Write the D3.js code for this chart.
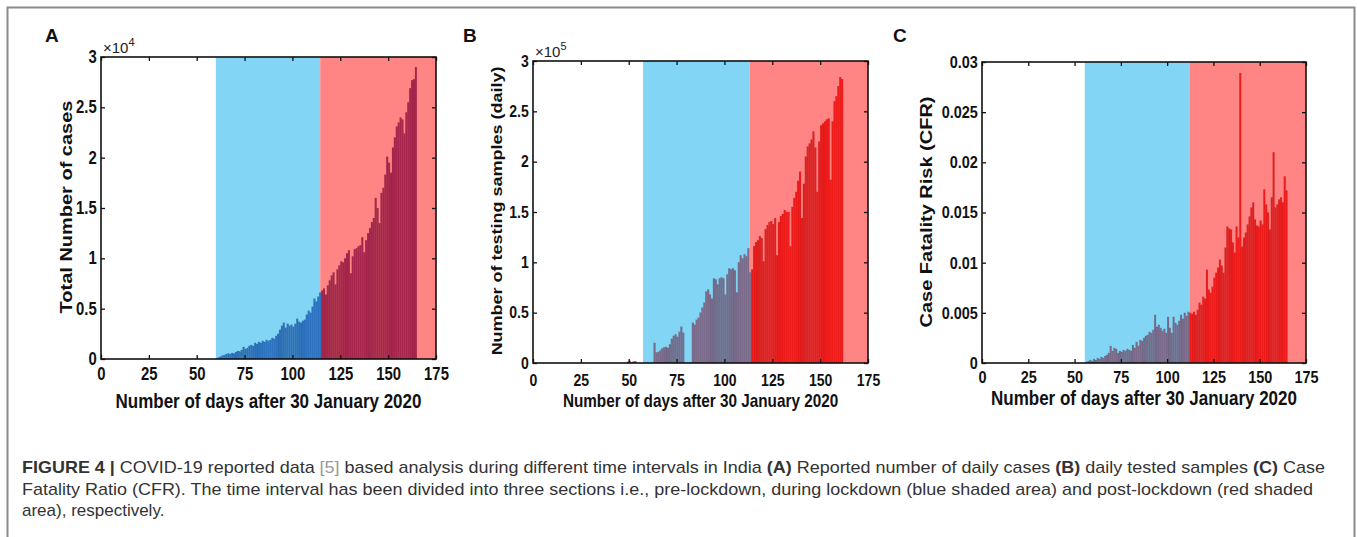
<!DOCTYPE html>
<html>
<head>
<meta charset="utf-8">
<script src="https://cdn.jsdelivr.net/npm/d3@7"></script>
<style>
  body { margin: 0; background: #fff; }
</style>
</head>
<body>
<svg id="fig" width="1357" height="537"></svg>
<script>
/* Data */
const xTicks = [0, 25, 50, 75, 100, 125, 150, 175];

// (A) daily cases, one value per day starting at day 60
const casesStart = 60;
const casesValues = [
  50, 150, 250, 350, 400, 500, 550, 500, 600, 550,
  700, 800, 750, 900, 1200, 1000, 1100, 1300, 1400, 1300,
  1600, 1500, 1700, 1600, 1800, 1700, 1900, 1800, 1900, 2100,
  2000, 2300, 2500, 2900, 3300, 3600, 3100, 3500, 3300, 3400,
  3200, 3500, 4000, 3700, 3600, 3800, 3900, 4400, 4800, 4600,
  5200, 6000, 5700, 6200, 6600,
  6800, 7000, 6400, 7300, 7800, 8300, 8600, 7400, 8900, 9300,
  9700, 9600, 10000, 10500, 10800, 8500, 10200, 10900, 11000, 11200,
  11300, 12100, 10600, 11800, 12500, 13000, 13600, 14000, 16000, 15000,
  13500, 16500, 17000, 18300, 20100, 19500, 18500, 21000, 22000, 23100,
  23500, 24000, 23800, 22400, 24500, 25500, 26900, 27700, 27800, 29000
];
const casesPhases = [60, 114.5, 175];
const casesYTicks = [0, 5000, 10000, 15000, 20000, 25000, 30000];

// (B) daily tested samples, starting at day 49
const testsStart = 49;
const testsValues = [
  1200, 2200, 900, 1500, 1800, 0, 0, 0, 0, 0, 0, 0, 0, 0,
  20000, 10500, 11000, 12500, 14500, 15500, 16000, 15000, 18500, 24000,
  27000, 28500, 26000, 31000, 36000, 30000, 0, 0, 0, 0,
  40000, 38000, 43000, 45000, 50000, 55000, 60000, 71000, 73000, 68000,
  64000, 84000, 83000, 78000, 84000, 85000, 84000, 68000, 88000, 94000,
  93000, 94000, 92000, 70000, 100000, 107000, 104000, 108000, 106000, 114000,
  90000, 93000, 116000, 120000, 122000, 126000, 124000, 101000, 133000, 137000,
  140000, 141000, 138000, 144000, 107000, 140000, 146000, 148000, 152000, 150000,
  150000, 116000, 155000, 164000, 170000, 181000, 190000, 144000, 178000, 205000,
  215000, 218000, 222000, 230000, 214000, 170000, 220000, 236000, 238000, 240000,
  242000, 243000, 182000, 240000, 260000, 265000, 275000, 284000, 282000
];
const testsPhases = [57.5, 113.2, 175];
const testsYTicks = [0, 50000, 100000, 150000, 200000, 250000, 300000];

// (C) case fatality risk, starting at day 56
const cfrStart = 56;
const cfrValues = [
  0.0001, 0.0002, 0.0003, 0.0002, 0.0004, 0.0003, 0.0005, 0.0004, 0.0006, 0.0005,
  0.0007, 0.0008, 0.001, 0.0017, 0.0012, 0.0015, 0.0014, 0.001, 0.0012, 0.0011,
  0.0013, 0.0012, 0.0014, 0.0013, 0.0012, 0.0018, 0.0015, 0.0021, 0.0017, 0.0023,
  0.0022, 0.0025, 0.0027, 0.0028, 0.0031, 0.003, 0.0033, 0.0048, 0.0036, 0.0038,
  0.0035, 0.0032, 0.0034, 0.003, 0.0046, 0.0035, 0.003, 0.0046, 0.004, 0.0038,
  0.0042, 0.0048, 0.0044, 0.005, 0.0047, 0.0051,
  0.005, 0.0049, 0.0051, 0.0048, 0.0053, 0.006, 0.0058, 0.0066, 0.0064, 0.0093,
  0.0073, 0.007, 0.0076, 0.0085, 0.009, 0.0095, 0.0103, 0.0097, 0.009, 0.0115,
  0.0136, 0.0134, 0.0133, 0.012, 0.011, 0.0136, 0.0125, 0.0289, 0.0116, 0.0125,
  0.013, 0.0138, 0.0146, 0.0155, 0.016, 0.0143, 0.0137, 0.0136, 0.0142, 0.0138,
  0.0173, 0.0158, 0.015, 0.0133, 0.0165, 0.021, 0.0155, 0.0158, 0.0163, 0.0165,
  0.016, 0.0186, 0.0172
];
const cfrPhases = [55.5, 112, 175];
const cfrYTicks = [0, 0.005, 0.01, 0.015, 0.02, 0.025, 0.03];

/* Styles */
const FONT = "'Liberation Sans', Arial, sans-serif";
const SQ = 0.85;          // the figure is squeezed horizontally
const BLUE_SHADE = "#82d5f5";
const RED_SHADE = "#ff8585";

const svg = d3.select("#fig");

// outer border
svg.append("rect")
    .attr("x", 7.5).attr("y", 7.5)
    .attr("width", 1347).attr("height", 560)
    .attr("fill", "none")
    .attr("stroke", "#8a8a8a")
    .attr("stroke-width", 2);

function squeezed(parent, x, y, str, size, rotate) {
    return parent.append("text")
        .attr("transform", `translate(${x},${y}) scale(${SQ},1)` + (rotate ? " rotate(-90)" : ""))
        .attr("text-anchor", "middle")
        .attr("font-family", FONT)
        .attr("font-weight", "bold")
        .attr("font-size", size)
        .attr("fill", "#111")
        .text(str);
}

function drawPanel(p) {
    const x = d3.scaleLinear().domain([0, 175]).range([p.left, p.right]);
    const y = d3.scaleLinear().domain([0, p.yTicks[p.yTicks.length - 1]]).range([p.bottom, p.top]);
    const g = svg.append("g");

    // shaded phases
    g.append("rect")
        .attr("x", x(p.phases[0])).attr("y", p.top)
        .attr("width", x(p.phases[1]) - x(p.phases[0]))
        .attr("height", p.bottom - p.top)
        .attr("fill", BLUE_SHADE);
    g.append("rect")
        .attr("x", x(p.phases[1])).attr("y", p.top)
        .attr("width", x(p.phases[2]) - x(p.phases[1]))
        .attr("height", p.bottom - p.top)
        .attr("fill", RED_SHADE);

    // bars
    const bars = p.values
        .map((v, i) => ({ day: p.start + i, value: v }))
        .filter(d => d.value > 0);
    g.selectAll(".bar")
        .data(bars)
        .join("rect")
        .attr("class", "bar")
        .attr("x", d => x(d.day))
        .attr("width", d => x(d.day + 1) - x(d.day))
        .attr("y", d => y(d.value))
        .attr("height", d => p.bottom - y(d.value))
        .attr("fill", d => d.day < p.phases[0] ? p.barColors[0]
                         : d.day < p.phases[1] ? p.barColors[1] : p.barColors[2])
        .attr("stroke", "rgba(0,0,0,0.12)")
        .attr("stroke-width", 0.4);

    /* Axes: MATLAB style box with inward ticks */
    const styleAxis = s => {
        s.select(".domain").remove();
        s.attr("font-family", FONT).attr("font-size", p.tickFont).attr("font-weight", "bold").attr("color", "#111");
        s.selectAll("line").attr("stroke-width", 1.3);
        s.selectAll("text").attr("transform", `scale(${SQ},1)`);
    };
    g.append("g")
        .attr("transform", `translate(0,${p.bottom})`)
        .call(d3.axisBottom(x).tickValues(xTicks).tickSizeInner(-4).tickSizeOuter(0).tickPadding(p.xPad))
        .call(styleAxis);
    g.append("g")
        .attr("transform", `translate(0,${p.top})`)
        .call(d3.axisTop(x).tickValues(xTicks).tickSizeInner(-4).tickSizeOuter(0).tickFormat(""))
        .call(styleAxis);
    g.append("g")
        .attr("transform", `translate(${p.left},0)`)
        .call(d3.axisLeft(y).tickValues(p.yTicks).tickSizeInner(-4).tickSizeOuter(0).tickPadding(p.yPad).tickFormat(p.fmt))
        .call(styleAxis);
    g.append("g")
        .attr("transform", `translate(${p.right},0)`)
        .call(d3.axisRight(y).tickValues(p.yTicks).tickSizeInner(-4).tickSizeOuter(0).tickFormat(""))
        .call(styleAxis);

    g.append("rect")
        .attr("x", p.left).attr("y", p.top)
        .attr("width", p.right - p.left).attr("height", p.bottom - p.top)
        .attr("fill", "none")
        .attr("stroke", "#111")
        .attr("stroke-width", 1.6);

    // axis titles
    squeezed(g, (p.left + p.right) / 2, p.xLabelY, "Number of days after 30 January 2020", p.labelFont, false);
    squeezed(g, p.yLabelX, p.yLabelY, p.yLabel, p.labelFont, true);

    // panel letter
    g.append("text")
        .attr("x", p.letterX).attr("y", 42)
        .attr("font-family", FONT).attr("font-weight", "bold").attr("font-size", 19)
        .attr("fill", "#111")
        .text(p.letter);

    // exponent note
    if (p.exp) {
        const t = g.append("text")
            .attr("x", p.left + 2).attr("y", p.top - 4)
            .attr("font-family", FONT).attr("font-size", 15).attr("fill", "#222");
        t.append("tspan").text("\u00d710");
        t.append("tspan").attr("font-size", 11).attr("dy", -7).text(p.exp);
    }
}

drawPanel({
    letter: "A", letterX: 45,
    left: 101, right: 436, top: 57, bottom: 359,
    start: casesStart, values: casesValues, phases: casesPhases, yTicks: casesYTicks,
    fmt: d => d / 1e4, exp: "4",
    barColors: ["#2d72bf", "#2d72bf", "#a8264d"],
    tickFont: 17.5, labelFont: 20, xPad: 9, yPad: 5,
    xLabelY: 408, yLabelX: 72, yLabelY: 207,
    yLabel: "Total Number of cases"
});

drawPanel({
    letter: "B", letterX: 463,
    left: 533, right: 868, top: 61, bottom: 363,
    start: testsStart, values: testsValues, phases: testsPhases, yTicks: testsYTicks,
    fmt: d => d / 1e5, exp: "5",
    barColors: ["#d01f1f", "#7b6b8b", "#ee1b1b"],
    tickFont: 16.5, labelFont: 18, xPad: 11, yPad: 5,
    xLabelY: 407, yLabelX: 502, yLabelY: 211,
    yLabel: "Number of testing samples (daily)"
});

drawPanel({
    letter: "C", letterX: 893,
    left: 982, right: 1306, top: 62, bottom: 363,
    start: cfrStart, values: cfrValues, phases: cfrPhases, yTicks: cfrYTicks,
    fmt: d => String(d), exp: null,
    barColors: ["#7b6b8b", "#7b6b8b", "#ee1b1b"],
    tickFont: 17, labelFont: 20, xPad: 8, yPad: 5,
    xLabelY: 405, yLabelX: 932, yLabelY: 212,
    yLabel: "Case Fatality Risk (CFR)"
});

/* Caption */
const cap = svg.append("g")
    .attr("font-family", FONT)
    .attr("font-size", 17)
    .attr("fill", "#333");

const line1 = cap.append("text").attr("x", 22).attr("y", 473)
    .attr("textLength", 1303).attr("lengthAdjust", "spacingAndGlyphs");
line1.append("tspan").attr("font-weight", "bold").text("FIGURE 4 | ");
line1.append("tspan").text("COVID-19 reported data ");
line1.append("tspan").attr("fill", "#999").text("[5]");
line1.append("tspan").text(" based analysis during different time intervals in India ");
line1.append("tspan").attr("font-weight", "bold").text("(A)");
line1.append("tspan").text(" Reported number of daily cases ");
line1.append("tspan").attr("font-weight", "bold").text("(B)");
line1.append("tspan").text(" daily tested samples ");
line1.append("tspan").attr("font-weight", "bold").text("(C)");
line1.append("tspan").text(" Case");

cap.append("text").attr("x", 22).attr("y", 495)
    .attr("textLength", 1291).attr("lengthAdjust", "spacingAndGlyphs")
    .text("Fatality Ratio (CFR). The time interval has been divided into three sections i.e., pre-lockdown, during lockdown (blue shaded area) and post-lockdown (red shaded");

cap.append("text").attr("x", 22).attr("y", 516)
    .text("area), respectively.");
</script>
</body>
</html>
